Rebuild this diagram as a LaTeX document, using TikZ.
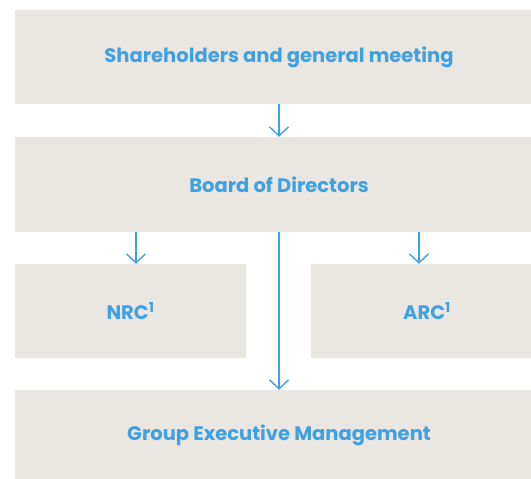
\documentclass[tikz,border=0pt]{standalone}
\usepackage{fontspec}
\setmainfont{Poppins}
\usetikzlibrary{arrows.meta}
\definecolor{boxgrey}{HTML}{EAE7E3}
\definecolor{govblue}{HTML}{3FA0E2}
\tikzset{
  govbox/.style={fill=boxgrey, text=govblue, font=\bfseries\fontsize{19.5}{22}\selectfont,
    inner sep=0pt, anchor=center},
  flow/.style={govblue, line width=1.4pt, -{Straight Barb[length=9pt,width=19pt]}}
}
\begin{document}
\begin{tikzpicture}[x=1pt,y=-1pt]
  \useasboundingbox (0,0) rectangle (531,479);
  \clip (0,0) rectangle (531,479);
  \node[govbox, minimum width=528pt, minimum height=94pt] (agm) at (279,57) {Shareholders and general meeting};
  \node[govbox, minimum width=528pt, minimum height=95pt] (board) at (279,184.5) {Board of Directors};
  \node[govbox, minimum width=231pt, minimum height=94pt] (nrc) at (130.5,311) {NRC\textsuperscript{1}};
  \node[govbox, minimum width=232pt, minimum height=94pt] (arc) at (427,311) {ARC\textsuperscript{1}};
  \node[govbox, minimum width=528pt, minimum height=90pt] (gem) at (279,435) {Group Executive Management};
  % committee feeds
  \coordinate (nrcin) at (136,0);
  \coordinate (arcin) at (419,0);
  \draw[flow] (agm.south) -- (board.north);
  \draw[flow] (board.south -| nrcin) -- (nrc.north -| nrcin);
  \draw[flow] (board.south -| arcin) -- (arc.north -| arcin);
  \draw[flow] (board.south) -- (gem.north);
\end{tikzpicture}
\end{document}
